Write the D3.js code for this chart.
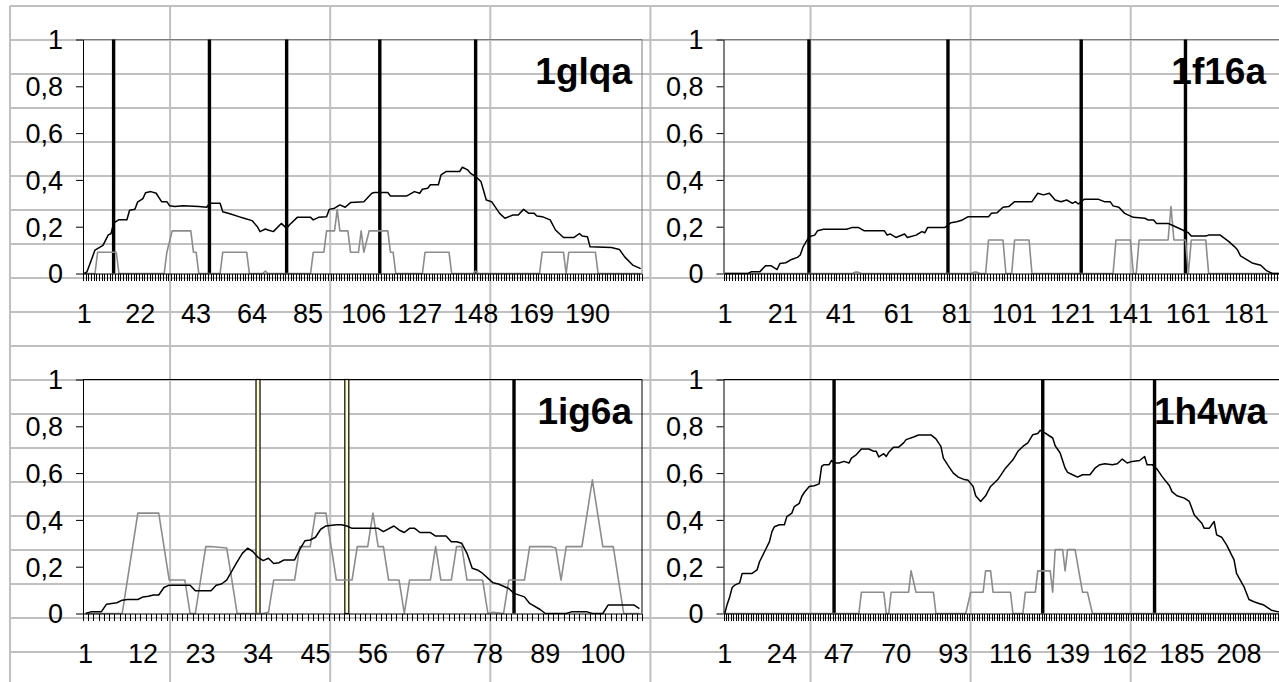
<!DOCTYPE html>
<html><head><meta charset="utf-8">
<script src="https://cdn.jsdelivr.net/npm/d3@7"></script>
<style>
html,body{margin:0;padding:0;background:#fff;overflow:hidden}
svg{display:block}
text{font-family:"Liberation Sans",Arial,sans-serif}
</style></head><body>
<svg id="c" width="1279" height="682"></svg>
<script>
// ---------------- DATA ----------------
const panelTitles = ["1glqa", "1f16a", "1ig6a", "1h4wa"];
const categoryCounts = [210, 193, 107, 225];

const xLabels_1glqa = [1, 22, 43, 64, 85, 106, 127, 148, 169, 190];
const xLabels_1f16a = [1, 21, 41, 61, 81, 101, 121, 141, 161, 181];
const xLabels_1ig6a = [1, 12, 23, 34, 45, 56, 67, 78, 89, 100];
const xLabels_1h4wa = [1, 24, 47, 70, 93, 116, 139, 162, 185, 208];

const yTickValues = [0, 0.2, 0.4, 0.6, 0.8, 1];
const yTickLabels = ["0", "0,2", "0,4", "0,6", "0,8", "1"];

// [category, value]
const black_1glqa = [[1,0],[2,0.007],[5,0.1],[8,0.12],[10,0.165],[11,0.17],[12,0.215],[14,0.23],[17,0.23],[18,0.27],[20,0.275],[21,0.305],[23,0.32],[24,0.345],[26,0.35],[28,0.343],[30,0.307],[32,0.307],[33,0.29],[35,0.286],[38,0.29],[44,0.286],[47,0.283],[48,0.3],[52,0.3],[53,0.264],[56,0.254],[59,0.243],[61,0.236],[64,0.226],[66,0.2],[67,0.179],[69,0.19],[70,0.186],[72,0.179],[75,0.214],[77,0.193],[78,0.207],[81,0.24],[86,0.24],[87,0.229],[89,0.24],[92,0.243],[93,0.274],[95,0.279],[97,0.293],[99,0.283],[101,0.303],[106,0.307],[109,0.343],[110,0.346],[115,0.346],[116,0.331],[122,0.331],[125,0.35],[127,0.343],[128,0.36],[130,0.364],[131,0.379],[134,0.379],[135,0.421],[137,0.436],[142,0.436],[143,0.454],[145,0.443],[146,0.429],[148,0.414],[150,0.393],[152,0.314],[154,0.307],[157,0.257],[159,0.236],[162,0.25],[164,0.25],[166,0.274],[168,0.257],[170,0.257],[171,0.246],[173,0.243],[176,0.229],[178,0.186],[181,0.154],[185,0.154],[187,0.171],[188,0.16],[190,0.157],[191,0.114],[199,0.111],[202,0.103],[204,0.071],[207,0.036],[210,0.021]];
const gray_1glqa = [[1,0],[5,0],[6,0.091],[13,0.091],[14,0],[31,0],[32,0.091],[34,0.182],[41,0.182],[42,0.091],[43,0.091],[44,0],[52,0],[53,0.091],[62,0.091],[63,0],[68,0],[69,0.01],[70,0],[86,0],[87,0.091],[91,0.091],[92,0.182],[95,0.182],[96,0.273],[97,0.182],[100,0.182],[101,0.091],[104,0.091],[105,0.182],[106,0.091],[108,0.182],[115,0.182],[116,0.091],[117,0.091],[118,0],[128,0],[129,0.091],[138,0.091],[139,0],[147,0],[148,0.01],[149,0],[172,0],[173,0.091],[181,0.091],[182,0],[183,0.091],[193,0.091],[194,0],[210,0]];
const bars_1glqa = [12, 48, 77, 112, 148];
const paleBars_1glqa = [];

const black_1f16a = [[1,0],[9,0],[10,0.007],[13,0.007],[15,0.033],[17,0.033],[19,0.017],[20,0.043],[22,0.046],[24,0.06],[26,0.069],[27,0.079],[28,0.114],[30,0.157],[32,0.164],[33,0.183],[35,0.189],[43,0.189],[45,0.197],[47,0.197],[49,0.183],[56,0.183],[57,0.164],[58,0.169],[60,0.154],[63,0.169],[64,0.154],[67,0.164],[69,0.179],[70,0.174],[71,0.197],[77,0.197],[79,0.217],[81,0.221],[83,0.229],[85,0.243],[92,0.243],[93,0.257],[95,0.26],[97,0.283],[99,0.286],[101,0.307],[107,0.307],[109,0.343],[111,0.336],[113,0.343],[115,0.314],[117,0.307],[119,0.314],[121,0.3],[122,0.307],[123,0.297],[125,0.317],[130,0.317],[132,0.307],[134,0.307],[135,0.289],[137,0.283],[139,0.257],[142,0.24],[146,0.236],[147,0.229],[149,0.229],[150,0.214],[154,0.214],[156,0.203],[159,0.186],[161,0.174],[162,0.16],[167,0.16],[168,0.164],[172,0.164],[175,0.136],[177,0.114],[178,0.1],[179,0.075],[181,0.06],[183,0.045],[186,0.035],[188,0.012],[190,0],[193,0]];
const gray_1f16a = [[1,0],[45,0],[46,0.006],[47,0.006],[48,0],[86,0],[87,0.006],[88,0.006],[89,0],[91,0],[92,0.143],[97,0.143],[98,0],[100,0],[101,0.143],[106,0.143],[107,0],[135,0],[136,0.143],[141,0.143],[142,0],[143,0],[144,0.143],[154,0.143],[155,0.286],[156,0.143],[160,0.143],[161,0],[162,0.143],[167,0.143],[168,0],[193,0]];
const bars_1f16a = [30, 78, 124, 160];
const paleBars_1f16a = [];

const black_1ig6a = [[1,0],[2,0.007],[4,0.007],[5,0.04],[6,0.043],[7,0.046],[8,0.057],[9,0.06],[11,0.06],[12,0.071],[13,0.074],[14,0.079],[15,0.079],[16,0.111],[17,0.121],[21,0.121],[22,0.097],[25,0.097],[26,0.121],[27,0.126],[28,0.143],[30,0.221],[31,0.257],[32,0.279],[33,0.265],[34,0.24],[35,0.226],[36,0.236],[37,0.214],[38,0.217],[39,0.229],[41,0.229],[42,0.274],[43,0.311],[44,0.314],[45,0.326],[46,0.36],[47,0.374],[49,0.379],[50,0.379],[51,0.374],[52,0.364],[57,0.364],[58,0.35],[60,0.374],[61,0.357],[62,0.346],[63,0.364],[64,0.364],[65,0.346],[67,0.346],[68,0.331],[70,0.331],[71,0.307],[72,0.307],[73,0.3],[74,0.257],[75,0.193],[76,0.186],[77,0.171],[79,0.131],[80,0.126],[82,0.107],[83,0.086],[85,0.071],[86,0.043],[88,0.017],[89,0],[93,0],[94,0.007],[97,0.007],[98,0],[100,0],[101,0.036],[106,0.036],[107,0.021]];
const gray_1ig6a = [[1,0],[8,0],[9,0.143],[10,0.286],[11,0.429],[15,0.429],[16,0.286],[17,0.143],[20,0.143],[21,0],[22,0],[23,0.143],[24,0.286],[25,0.286],[28,0.28],[29,0.143],[30,0],[35,0],[36,0.005],[37,0.143],[41,0.143],[42,0.286],[44,0.286],[45,0.429],[47,0.429],[48,0.286],[49,0.143],[52,0.143],[53,0.286],[55,0.286],[56,0.429],[57,0.286],[58,0.286],[59,0.143],[61,0.143],[62,0],[63,0.143],[67,0.143],[68,0.286],[69,0.143],[71,0.143],[72,0.286],[73,0.286],[74,0.143],[77,0.143],[78,0],[79,0.005],[81,0],[82,0.143],[85,0.143],[86,0.286],[90,0.286],[91,0.28],[92,0.143],[93,0.286],[96,0.286],[98,0.571],[100,0.286],[102,0.286],[104,0],[107,0]];
const bars_1ig6a = [83];
const paleBars_1ig6a = [34, 51];

const black_1h4wa = [[1,0],[2,0.04],[3,0.071],[4,0.111],[5,0.121],[7,0.131],[8,0.171],[12,0.171],[14,0.186],[15,0.221],[17,0.264],[19,0.307],[20,0.35],[21,0.371],[23,0.379],[25,0.379],[26,0.414],[28,0.429],[29,0.457],[31,0.471],[32,0.5],[33,0.517],[35,0.543],[37,0.546],[39,0.554],[40,0.629],[41,0.636],[43,0.636],[44,0.654],[45,0.643],[47,0.643],[49,0.65],[51,0.643],[52,0.664],[54,0.679],[56,0.703],[59,0.703],[61,0.693],[62,0.693],[63,0.669],[65,0.683],[66,0.671],[67,0.689],[69,0.711],[71,0.711],[73,0.729],[74,0.743],[77,0.754],[79,0.763],[84,0.763],[86,0.746],[88,0.714],[89,0.664],[91,0.631],[93,0.6],[95,0.583],[97,0.574],[99,0.569],[101,0.543],[102,0.503],[104,0.479],[106,0.503],[108,0.543],[111,0.574],[112,0.589],[114,0.621],[117,0.657],[119,0.693],[121,0.714],[123,0.729],[125,0.764],[127,0.769],[128,0.783],[130,0.771],[133,0.75],[134,0.717],[136,0.686],[138,0.621],[139,0.603],[141,0.593],[143,0.583],[145,0.593],[148,0.593],[150,0.621],[152,0.636],[154,0.64],[157,0.636],[159,0.64],[161,0.66],[163,0.643],[165,0.65],[168,0.654],[170,0.671],[171,0.636],[173,0.636],[175,0.617],[177,0.586],[180,0.546],[181,0.521],[183,0.503],[186,0.493],[188,0.479],[190,0.421],[193,0.386],[194,0.364],[196,0.364],[197,0.379],[198,0.393],[199,0.336],[201,0.326],[203,0.293],[206,0.229],[207,0.171],[210,0.114],[212,0.06],[214,0.05],[216,0.043],[218,0.036],[221,0.014],[224,0.007],[225,0.005]];
const gray_1h4wa = [[1,0],[55,0],[56,0.091],[65,0.091],[66,0],[67,0],[68,0.091],[75,0.091],[76,0.182],[78,0.091],[85,0.091],[86,0],[98,0],[100,0.091],[105,0.091],[106,0.182],[108,0.182],[109,0.091],[116,0.091],[117,0],[121,0],[122,0.091],[126,0.091],[127,0.182],[132,0.182],[133,0.091],[134,0.273],[137,0.273],[138,0.182],[139,0.273],[142,0.273],[145,0.091],[147,0.091],[149,0],[225,0]];
const bars_1h4wa = [45, 129, 174];
const paleBars_1h4wa = [];

// ---------------- LAYOUT ----------------
const W = 1279, H = 682;
const svg = d3.select("#c");

// spreadsheet cell grid behind the charts
const gridG = svg.append("g");
const rowYs = d3.range(0, 20).map(k => 6 + 34 * k);
const colXs = d3.range(0, 8).map(k => 10 + 160.1 * k);
gridG.selectAll("line.r").data(rowYs).join("line")
  .attr("x1", 10).attr("x2", W).attr("y1", d => d).attr("y2", d => d)
  .attr("stroke", "#c0c0c0").attr("stroke-width", 2);
gridG.selectAll("line.c").data(colXs).join("line")
  .attr("y1", 6).attr("y2", H).attr("x1", d => d).attr("x2", d => d)
  .attr("stroke", "#c0c0c0").attr("stroke-width", 2);

const panels = [
  {title: panelTitles[0], n: categoryCounts[0], labels: xLabels_1glqa, black: black_1glqa, gray: gray_1glqa, bars: bars_1glqa, pale: paleBars_1glqa, left: 83, top: 39.5, titleX: 632, titleY: 84, border: "#7a7a7a"},
  {title: panelTitles[1], n: categoryCounts[1], labels: xLabels_1f16a, black: black_1f16a, gray: gray_1f16a, bars: bars_1f16a, pale: paleBars_1f16a, left: 723.5, top: 39.5, titleX: 1266, titleY: 84, border: "#7a7a7a"},
  {title: panelTitles[2], n: categoryCounts[2], labels: xLabels_1ig6a, black: black_1ig6a, gray: gray_1ig6a, bars: bars_1ig6a, pale: paleBars_1ig6a, left: 83, top: 379.5, titleX: 632, titleY: 424, border: "#000"},
  {title: panelTitles[3], n: categoryCounts[3], labels: xLabels_1h4wa, black: black_1h4wa, gray: gray_1h4wa, bars: bars_1h4wa, pale: paleBars_1h4wa, left: 723.5, top: 379.5, titleX: 1267, titleY: 424, border: "#000"}
];
const plotW = 559, plotH = 234;
const FONT = '"Liberation Sans",Arial,sans-serif';

panels.forEach(p => {
  const g = svg.append("g");
  const x = d3.scaleBand().domain(d3.range(1, p.n + 1)).range([p.left, p.left + plotW]).padding(0);
  const cx = c => x(c) + x.bandwidth() / 2;
  const xl = d3.scaleLinear().domain([0.5, p.n + 0.5]).range([p.left, p.left + plotW]);
  const y = d3.scaleLinear().domain([0, 1]).range([p.top + plotH, p.top]);

  // plot border (top/right)
  g.append("path")
    .attr("d", `M${p.left},${p.top}H${p.left + plotW}V${p.top + plotH}`)
    .attr("fill", "none").attr("stroke", p.border).attr("stroke-width", 1);

  // bars
  g.selectAll("rect.b").data(p.bars).join("rect")
    .attr("x", d => cx(d) - 1.7).attr("width", 3.4)
    .attr("y", y(1)).attr("height", y(0) - y(1))
    .attr("fill", "#000");
  g.selectAll("rect.p").data(p.pale).join("rect")
    .attr("x", d => cx(d) - 2).attr("width", 4)
    .attr("y", y(1)).attr("height", y(0) - y(1))
    .attr("fill", "#ffffcc").attr("stroke", "#000").attr("stroke-width", 1.2);

  const line = d3.line().x(d => cx(d[0])).y(d => y(d[1]));
  g.append("path").datum(p.gray).attr("d", line)
    .attr("fill", "none").attr("stroke", "#8c8c8c").attr("stroke-width", 1.6).attr("stroke-linejoin", "round");
  g.append("path").datum(p.black).attr("d", line)
    .attr("fill", "none").attr("stroke", "#000").attr("stroke-width", 1.5).attr("stroke-linejoin", "round");

  // x axis: tick marks between categories
  const xAxis = d3.axisBottom(xl)
    .tickValues(d3.range(0, p.n + 1).map(k => k + 0.5))
    .tickFormat("").tickSize(7).tickSizeOuter(0);
  const gx = g.append("g").attr("transform", `translate(0,${y(0)})`).call(xAxis);
  gx.select(".domain").attr("stroke", "#000");
  gx.selectAll(".tick line").attr("stroke", "#000").attr("shape-rendering", "crispEdges");

  // x labels
  g.selectAll("text.xl").data(p.labels).join("text")
    .attr("x", d => cx(d)).attr("y", y(0) + 49.5)
    .attr("text-anchor", "middle").attr("font-size", 27).attr("fill", "#000")
    .attr("font-family", FONT)
    .text(d => d);

  // y axis
  const yAxis = d3.axisLeft(y).tickValues(yTickValues)
    .tickFormat((d, i) => yTickLabels[i]).tickSize(7).tickSizeOuter(0).tickPadding(13);
  const gy = g.append("g").attr("transform", `translate(${p.left},0)`).call(yAxis);
  gy.select(".domain").attr("stroke", "#000");
  gy.selectAll(".tick line").attr("stroke", "#000");
  gy.selectAll(".tick text").attr("font-size", 27).attr("fill", "#000")
    .attr("font-family", FONT).attr("dy", "0.35em");

  // panel title
  g.append("text").attr("x", p.titleX).attr("y", p.titleY)
    .attr("text-anchor", "end").attr("font-size", 37).attr("font-weight", "bold")
    .attr("font-family", FONT)
    .attr("fill", "#000").text(p.title);
});
</script>
</body></html>
